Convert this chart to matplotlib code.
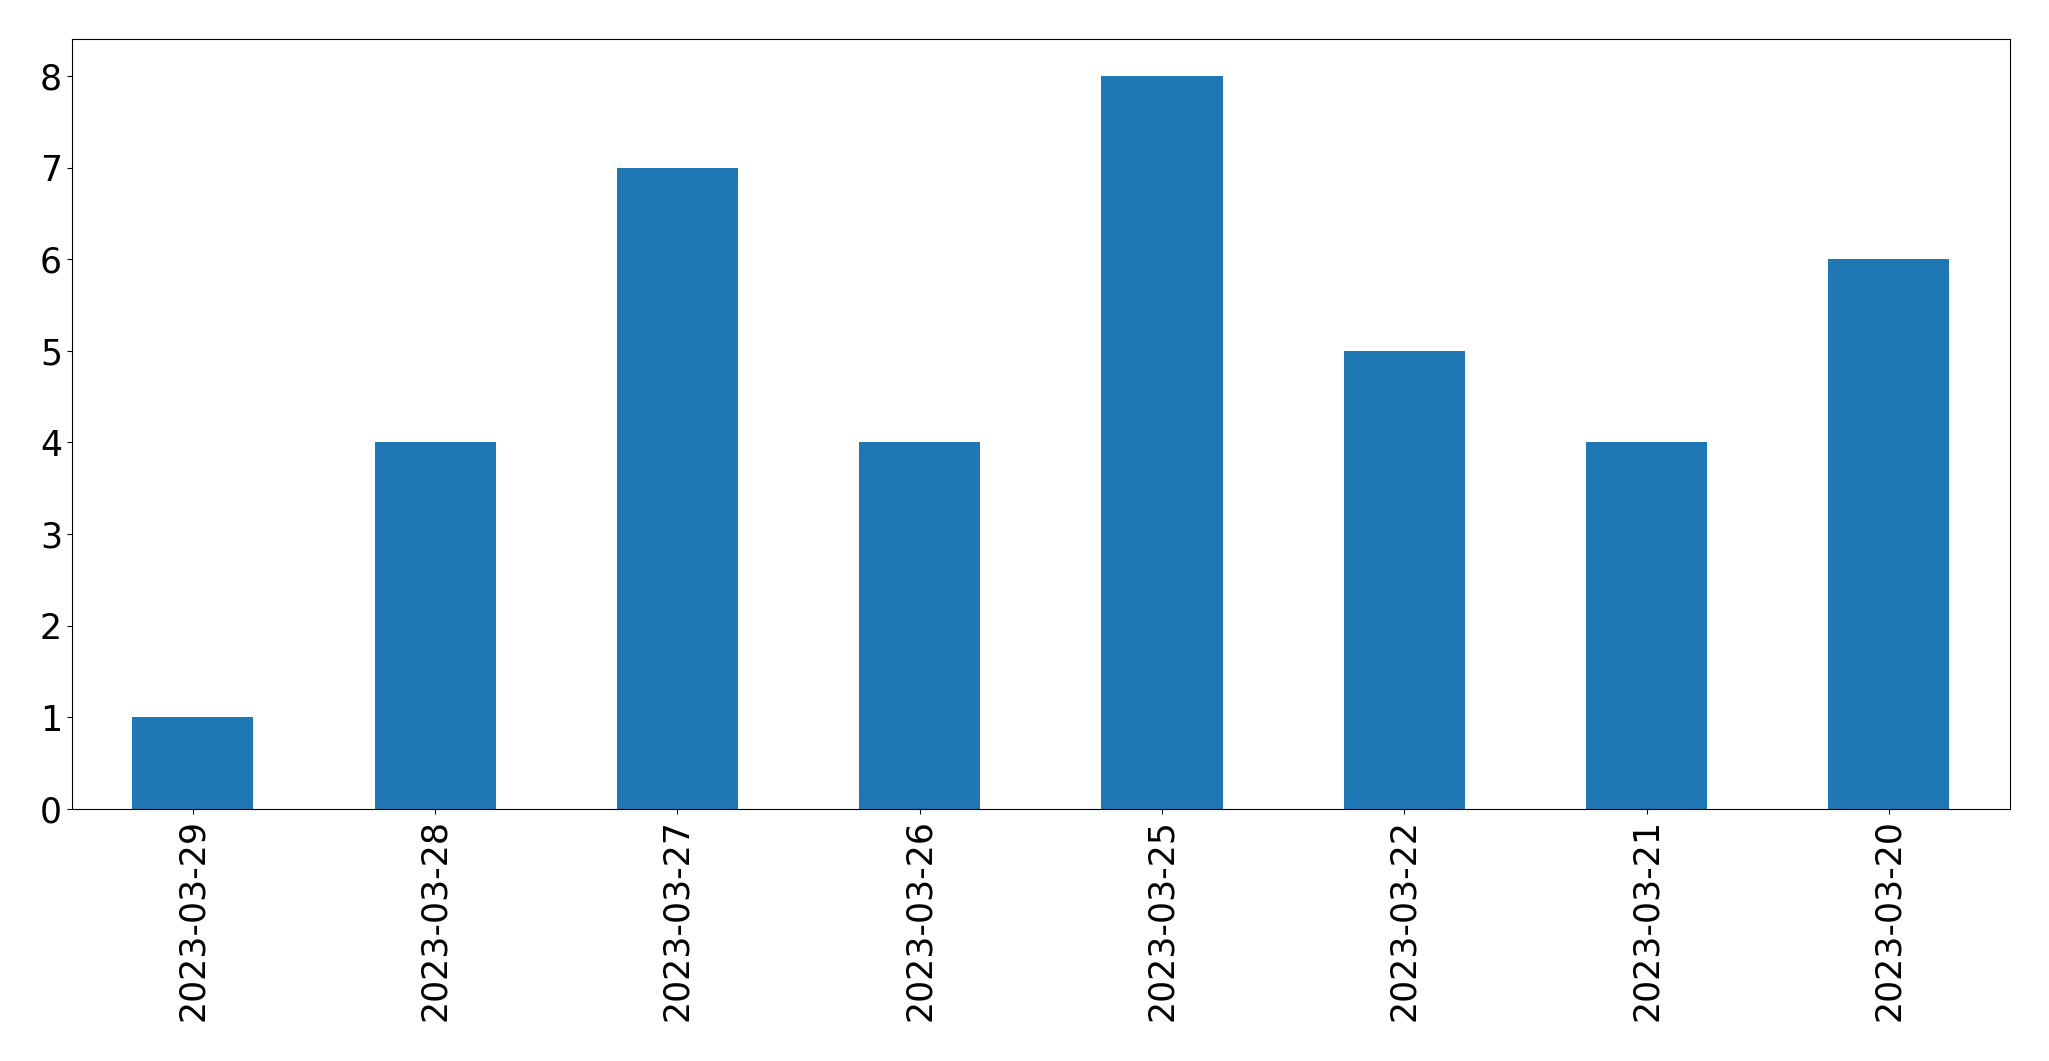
import matplotlib
matplotlib.use("Agg")
import matplotlib.pyplot as plt
import pandas as pd

dates = ["2023-03-29", "2023-03-28", "2023-03-27", "2023-03-26",
         "2023-03-25", "2023-03-22", "2023-03-21", "2023-03-20"]
counts = [1, 4, 7, 4, 8, 5, 4, 6]

plt.rcParams["font.size"] = 25

series = pd.Series(counts, index=dates)

fig, ax = plt.subplots(figsize=(20.49, 10.61), dpi=100)
series.plot(kind="bar", ax=ax, color="#1f77b4")
fig.subplots_adjust(left=0.035, right=0.981, top=0.963, bottom=0.2375)

plt.savefig("out.png", dpi=100)
